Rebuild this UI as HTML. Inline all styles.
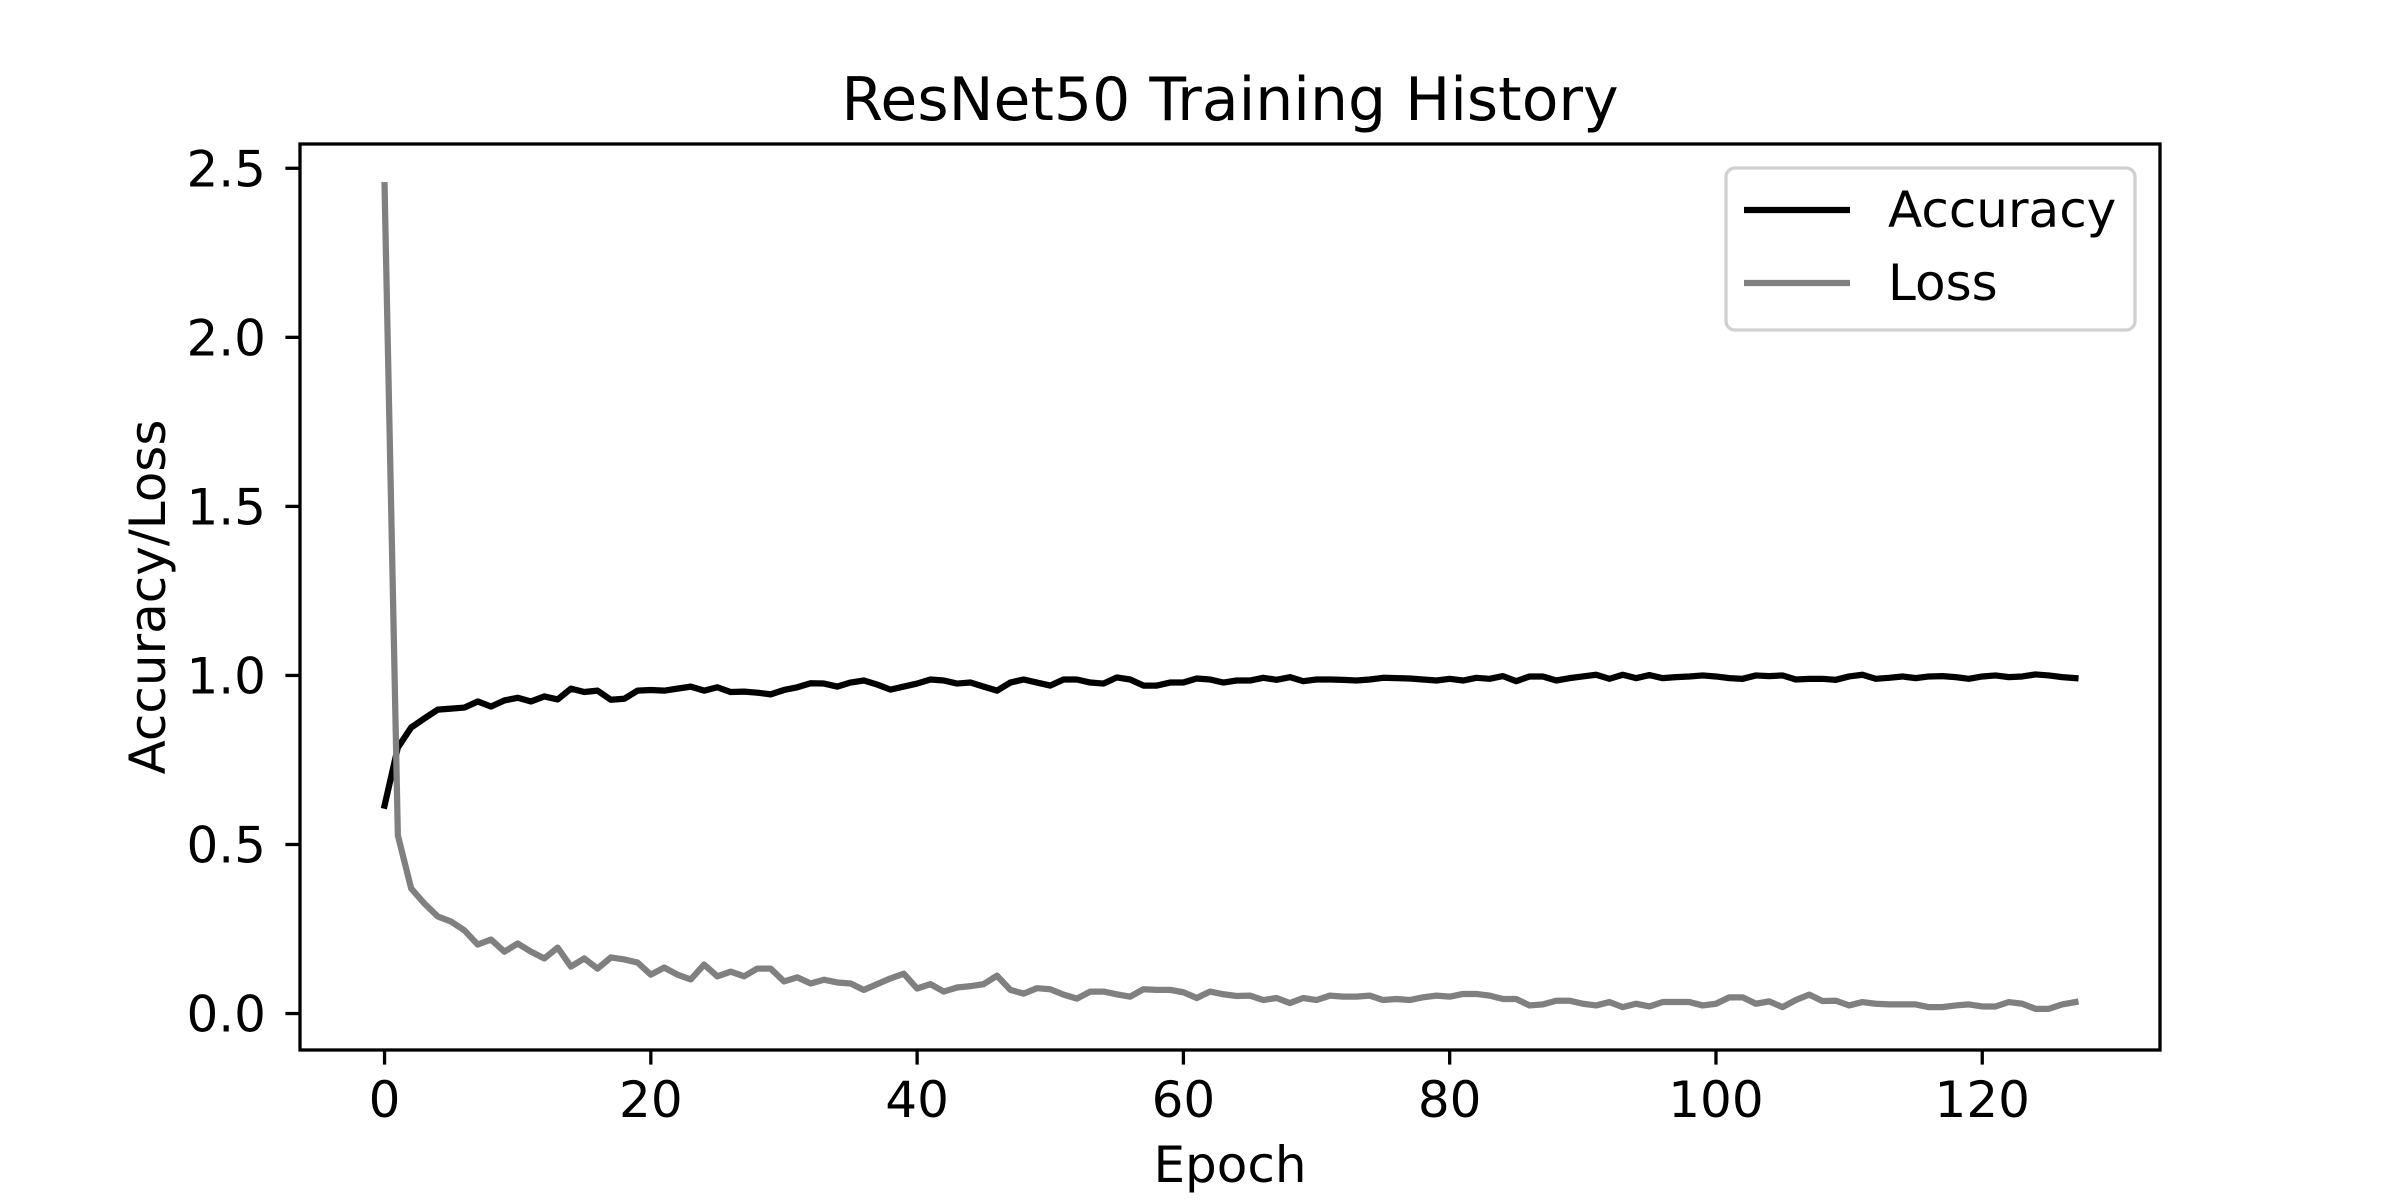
<!DOCTYPE html>
<html><head><meta charset="utf-8"><style>
html,body{margin:0;padding:0;background:#fff;}
svg{display:block;font-family:"DejaVu Sans","Liberation Sans",sans-serif;}
</style></head><body>
<svg id="chart" width="2400" height="1200" viewBox="0 0 2400 1200" xmlns="http://www.w3.org/2000/svg">
<rect x="0" y="0" width="2400" height="1200" fill="#fff"/>
<text x="1230" y="120" font-size="60" text-anchor="middle">ResNet50 Training History</text>
<g id="plot"></g>
<text x="1230" y="1182" font-size="50" text-anchor="middle">Epoch</text>
<text transform="translate(165,597) rotate(-90)" font-size="50" text-anchor="middle">Accuracy/Loss</text>
<g id="legend">
<rect x="1726" y="168" width="409" height="162" rx="9" fill="#fff" fill-opacity="0.8" stroke="#d0d0d0" stroke-width="3.3"/>
<line x1="1744" y1="210" x2="1850" y2="210" stroke="#000" stroke-width="6.25"/>
<text x="1888" y="227" font-size="50">Accuracy</text>
<line x1="1744" y1="283" x2="1850" y2="283" stroke="#808080" stroke-width="6.25"/>
<text x="1888" y="300" font-size="50">Loss</text>
</g>
</svg>
<script>
const accuracy = [0.615,0.787,0.846,0.873,0.899,0.902,0.905,0.923,0.908,0.926,0.934,0.923,0.938,0.929,0.961,0.951,0.955,0.928,0.931,0.955,0.957,0.955,0.961,0.967,0.955,0.965,0.951,0.952,0.949,0.944,0.957,0.965,0.977,
0.976,0.967,0.979,0.985,0.973,0.958,0.967,0.976,0.988,0.985,0.976,0.979,0.967,0.955,0.979,0.988,0.979,0.970,0.988,0.988,0.979,0.976,0.994,0.988,0.970,0.970,0.979,0.979,0.991,0.988,0.979,0.985,
0.985,0.993,0.987,0.995,0.983,0.988,0.988,0.987,0.985,0.988,0.993,0.992,0.991,0.988,0.985,0.990,0.985,0.993,0.990,0.998,0.983,0.997,0.997,0.985,0.992,0.997,1.002,0.990,1.002,0.992,1.001,0.992,
0.995,0.997,1.000,0.997,0.992,0.990,1.000,0.998,1.000,0.988,0.990,0.990,0.987,0.997,1.002,0.990,0.993,0.997,0.992,0.997,0.998,0.995,0.990,0.997,1.000,0.995,0.997,1.003,1.000,0.995,0.992];
const loss = [2.45,0.527,0.370,0.325,0.287,0.272,0.246,0.204,0.219,0.183,0.207,0.183,0.163,0.195,0.139,0.163,0.133,0.166,0.160,0.151,0.115,0.136,0.115,0.101,0.145,0.110,0.124,0.110,0.133,0.133,0.095,0.107,0.089,
0.100,0.092,0.089,0.070,0.087,0.104,0.118,0.074,0.087,0.065,0.077,0.081,0.087,0.112,0.070,0.059,0.075,0.072,0.056,0.044,0.065,0.065,0.057,0.050,0.072,0.070,0.070,0.063,0.046,0.065,0.057,0.052,
0.053,0.040,0.046,0.031,0.046,0.040,0.053,0.050,0.050,0.053,0.040,0.043,0.040,0.048,0.053,0.050,0.058,0.058,0.053,0.043,0.043,0.024,0.027,0.038,0.038,0.029,0.024,0.034,0.019,0.029,0.021,0.034,
0.034,0.034,0.024,0.029,0.048,0.048,0.029,0.036,0.019,0.040,0.056,0.037,0.038,0.024,0.034,0.029,0.027,0.027,0.027,0.019,0.019,0.024,0.027,0.021,0.021,0.034,0.029,0.014,0.014,0.027,0.034];
const xTicks = [0,20,40,60,80,100,120];
const yTicks = [0.0,0.5,1.0,1.5,2.0,2.5];
const yTickLabels = ["0.0","0.5","1.0","1.5","2.0","2.5"];

const NS = "http://www.w3.org/2000/svg";
const L = 300, R = 2160, T = 144, B = 1050;
const n = Math.max(accuracy.length, loss.length);
const xmin = -(n-1)*0.05, xmax = (n-1)*1.05;
const all = accuracy.concat(loss);
const dmin = Math.min(...all), dmax = Math.max(...all), dr = dmax - dmin;
const ymin = dmin - 0.05*dr, ymax = dmax + 0.05*dr;
function xs(v){ return L + (v - xmin)/(xmax - xmin)*(R - L); }
function ys(v){ return B - (v - ymin)/(ymax - ymin)*(B - T); }
const plot = document.getElementById('plot');
function mk(tag, attrs){ const e = document.createElementNS(NS, tag); for (const k in attrs) e.setAttribute(k, attrs[k]); return e; }

function series(arr, color, name){
  const p = mk('polyline', {points: arr.map((v,i)=>xs(i).toFixed(2)+','+ys(v).toFixed(2)).join(' '), fill:'none', stroke:color, 'stroke-width':6.25, 'stroke-linejoin':'round', 'stroke-linecap':'square'});
  
  
  plot.appendChild(p);
}
series(accuracy, '#000', 'accuracy-line');
series(loss, '#808080', 'loss-line');

xTicks.forEach(t=>{
  const x = xs(t);
  const tk = mk('line', {x1:x, y1:B, x2:x, y2:B+14.6, stroke:'#000', 'stroke-width':3.3});
  
  
  plot.appendChild(tk);
  const lb = mk('text', {x:x, y:1117, 'font-size':50, 'text-anchor':'middle'});
  lb.textContent = String(t);
  
  
  plot.appendChild(lb);
});
yTicks.forEach((t,i)=>{
  const y = ys(t);
  const tk = mk('line', {x1:L-14.6, y1:y, x2:L, y2:y, stroke:'#000', 'stroke-width':3.3});
  
  
  plot.appendChild(tk);
  const lb = mk('text', {x:266, y:y+18, 'font-size':50, 'text-anchor':'end'});
  lb.textContent = yTickLabels[i];
  
  
  plot.appendChild(lb);
});
const frame = mk('rect', {x:L, y:T, width:R-L, height:B-T, fill:'none', stroke:'#000', 'stroke-width':3.3});


plot.appendChild(frame);
</script>
</body></html>
